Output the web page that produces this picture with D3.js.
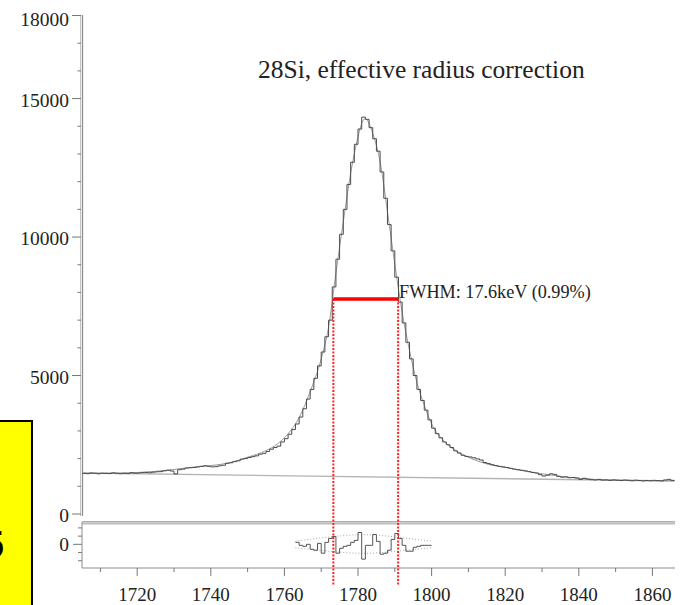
<!DOCTYPE html>
<html><head><meta charset="utf-8">
<script src="https://cdn.jsdelivr.net/npm/d3@7"></script>
<style>html,body{margin:0;padding:0;background:#fff;} svg{display:block;}</style>
</head><body>
<svg id="chart" width="687" height="605"></svg>
<script>
// Spectrum of the 28Si line after effective radius correction
const title = "28Si, effective radius correction";

// Histogram: 1 keV bins, left edge of first bin
const firstBin = 1705;
const counts = [
  1470,1455,1480,1470,1450,1470,1465,1460,1485,1470,
  1455,1470,1460,1490,1475,1480,1495,1500,1490,1510,
  1525,1530,1560,1580,1550,1450,1600,1620,1660,1670,
  1680,1700,1720,1740,1720,1700,1710,1740,1760,1830,
  1850,1890,1920,1980,2000,2040,2070,2100,2160,2190,
  2260,2340,2400,2450,2600,2720,2880,3050,3250,3500,
  3800,4150,4500,4900,5350,5850,6400,7000,8200,9200,
  10100,11000,11900,12700,13350,13900,14330,14250,13950,13550,
  13100,12350,11400,10450,9500,8550,7650,6900,6200,5600,
  5000,4500,4100,3750,3400,3100,2900,2750,2600,2500,
  2400,2280,2200,2120,2080,2060,2030,1990,1950,1860,
  1820,1780,1750,1720,1700,1680,1650,1620,1600,1580,
  1560,1530,1500,1480,1420,1370,1400,1450,1430,1360,
  1330,1340,1310,1320,1300,1250,1290,1260,1240,1230,
  1250,1225,1230,1215,1230,1220,1210,1225,1215,1200,
  1220,1210,1195,1210,1200,1215,1205,1195,1230,1250,
  1215
];

// Linear background under the peak
const bgKeV = [1705, 1866];
const bgCounts = [1480, 1190];

// Fitted line shape
const fitKeV = [1705,1715,1725,1735,1745,1750,1755,1758,1761,1764,1767,1770,1772,1774,1776,1778,1779,1780,1781,1782,1783,1784,1786,1788,1790,1792,1794,1796,1798,1800,1803,1806,1810,1815,1820,1830,1840,1850,1866];
const fitCounts = [1468,1478,1540,1690,1850,2050,2290,2520,2900,3480,4420,5600,6750,8700,10550,12300,13020,13620,14100,14280,14100,13750,12720,10920,9020,7280,5900,4750,3930,3250,2680,2340,2050,1810,1680,1450,1290,1220,1200];

// Fit residuals (data - fit), 1 keV bins
const residFirstBin = 1763;
const residuals = [60,-30,-60,0,-150,-180,30,-270,60,180,240,-270,-120,-60,-30,60,120,360,-450,-30,-30,300,90,-300,-270,-180,150,330,180,-30,-210,-210,-90,-60,-30,-30,-30];

// Statistical envelope around the residuals
const envKeV = [1763, 1770, 1776, 1781, 1786, 1792, 1800];
const envHi = [100, 200, 270, 300, 280, 200, 100];
const envLo = [-100, -190, -250, -280, -260, -190, -100];

// Full width at half maximum
const fwhmLo = 1773.3, fwhmHi = 1790.9, halfMax = 7763;
const fwhmLabel = "FWHM: 17.6keV (0.99%)";

// Axis ticks
const xTicks = [1720, 1740, 1760, 1780, 1800, 1820, 1840, 1860];
const xMinor = [1710, 1730, 1750, 1770, 1790, 1810, 1830, 1850];
const yTicks = [0, 5000, 10000, 15000, 18000];
const yMinor = [1000,2000,3000,4000,6000,7000,8000,9000,11000,12000,13000,14000,16000,17000];
const residTicks = [0];
const residMinor = [-500, -250, 250, 500];

const serif = "'Liberation Serif','Times New Roman',serif";
const svg = d3.select("#chart");

// Side note box, mostly outside the page
svg.append("rect").attr("x", -6).attr("y", 421).attr("width", 38).attr("height", 200)
  .attr("fill", "#ffff00").attr("stroke", "#000").attr("stroke-width", 2);
svg.append("text").attr("x", 4).attr("y", 558).attr("text-anchor", "end")
  .attr("font-family", "'Liberation Sans',Arial,sans-serif").attr("font-weight", "bold")
  .attr("font-size", 38).attr("fill", "#000").text("5");

const x = d3.scaleLinear().domain([1705, 1866]).range([82, 674.5]);
const y = d3.scaleLinear().domain([0, 18000]).range([514, 15.5]);
const yr = d3.scaleLinear().domain([-720, 680]).range([568, 522]);

// Main y axis
svg.append("line").attr("x1", 80.5).attr("x2", 80.5).attr("y1", 15).attr("y2", 516)
  .attr("stroke", "#c4c4c4").attr("stroke-width", 1);
svg.append("line").attr("x1", 82.5).attr("x2", 82.5).attr("y1", 15).attr("y2", 516)
  .attr("stroke", "#8c8c8c").attr("stroke-width", 1.3);
svg.append("g").selectAll("line").data(yTicks).join("line")
  .attr("x1", 72).attr("x2", 81).attr("y1", d => y(d)).attr("y2", d => y(d))
  .attr("stroke", "#777").attr("stroke-width", 1);
svg.append("g").selectAll("line").data(yMinor).join("line")
  .attr("x1", 77.5).attr("x2", 81).attr("y1", d => y(d)).attr("y2", d => y(d))
  .attr("stroke", "#777").attr("stroke-width", 1);
svg.append("g").selectAll("text").data(yTicks).join("text")
  .attr("x", 69).attr("y", d => y(d) + (d === 18000 ? 4 : 1.5)).attr("dy", "0.35em")
  .attr("text-anchor", "end").attr("font-family", serif).attr("font-size", 19.5)
  .attr("fill", "#222").text(d => d);

// Separator between the spectrum and the residual panel
svg.append("line").attr("x1", 82).attr("x2", 675).attr("y1", 521.8).attr("y2", 521.8)
  .attr("stroke", "#8c8c8c").attr("stroke-width", 1);
svg.append("line").attr("x1", 82).attr("x2", 675).attr("y1", 523.6).attr("y2", 523.6)
  .attr("stroke", "#bdbdbd").attr("stroke-width", 2);

// Residual panel axes
svg.append("line").attr("x1", 82).attr("x2", 82).attr("y1", 522).attr("y2", 568)
  .attr("stroke", "#8c8c8c").attr("stroke-width", 1);
svg.append("line").attr("x1", 82).attr("x2", 675).attr("y1", 568).attr("y2", 568)
  .attr("stroke", "#8c8c8c").attr("stroke-width", 1);
svg.append("g").selectAll("line").data(residTicks).join("line")
  .attr("x1", 73).attr("x2", 82).attr("y1", d => yr(d)).attr("y2", d => yr(d))
  .attr("stroke", "#777");
svg.append("g").selectAll("line").data(residMinor).join("line")
  .attr("x1", 78).attr("x2", 82).attr("y1", d => yr(d)).attr("y2", d => yr(d))
  .attr("stroke", "#777");
svg.append("g").selectAll("text").data(residTicks).join("text")
  .attr("x", 69).attr("y", d => yr(d)).attr("dy", "0.35em")
  .attr("text-anchor", "end").attr("font-family", serif).attr("font-size", 19.5)
  .attr("fill", "#222").text(d => d);

// Energy axis
svg.append("g").selectAll("line").data(xTicks).join("line")
  .attr("x1", d => x(d)).attr("x2", d => x(d)).attr("y1", 568).attr("y2", 576)
  .attr("stroke", "#777");
svg.append("g").selectAll("line").data(xMinor).join("line")
  .attr("x1", d => x(d)).attr("x2", d => x(d)).attr("y1", 568).attr("y2", 572)
  .attr("stroke", "#777");
svg.append("g").selectAll("text").data(xTicks).join("text")
  .attr("x", d => x(d)).attr("y", 601).attr("text-anchor", "middle")
  .attr("font-family", serif).attr("font-size", 19).attr("fill", "#222").text(d => d);

// Background line
svg.append("path")
  .datum(bgKeV.map((k, i) => [k, bgCounts[i]]))
  .attr("d", d3.line().x(d => x(d[0])).y(d => y(d[1])))
  .attr("fill", "none").attr("stroke", "#b4b4b4").attr("stroke-width", 1.4);

// Fit curve
svg.append("path")
  .datum(fitKeV.map((k, i) => [k, fitCounts[i]]))
  .attr("d", d3.line().x(d => x(d[0])).y(d => y(d[1])).curve(d3.curveMonotoneX))
  .attr("fill", "none").attr("stroke", "#9a9a9a").attr("stroke-width", 1);

// Histogram
const histPts = counts.map((c, i) => [firstBin + i, c]);
histPts.push([firstBin + counts.length, counts[counts.length - 1]]);
svg.append("path").datum(histPts)
  .attr("d", d3.line().x(d => x(d[0])).y(d => y(d[1])).curve(d3.curveStepAfter))
  .attr("fill", "none").attr("stroke", "#4a4a4a").attr("stroke-width", 1);

// Residual envelope
[envHi, envLo].forEach(arr => {
  svg.append("path").datum(envKeV.map((k, i) => [k, arr[i]]))
    .attr("d", d3.line().x(d => x(d[0])).y(d => yr(d[1])).curve(d3.curveBasis))
    .attr("fill", "none").attr("stroke", "#aaa").attr("stroke-width", 1)
    .attr("stroke-dasharray", "1,2");
});

// Residual histogram
const resPts = residuals.map((r, i) => [residFirstBin + i, r]);
resPts.push([residFirstBin + residuals.length, residuals[residuals.length - 1]]);
svg.append("path").datum(resPts)
  .attr("d", d3.line().x(d => x(d[0])).y(d => yr(d[1])).curve(d3.curveStepAfter))
  .attr("fill", "none").attr("stroke", "#555").attr("stroke-width", 1);

// FWHM markers
[fwhmLo, fwhmHi].forEach(k => {
  svg.append("line").attr("x1", x(k)).attr("x2", x(k)).attr("y1", y(halfMax)).attr("y2", 586)
    .attr("stroke", "#ff2020").attr("stroke-width", 2).attr("stroke-dasharray", "2,1.5");
});
svg.append("line").attr("x1", x(fwhmLo)).attr("x2", x(fwhmHi))
  .attr("y1", y(halfMax)).attr("y2", y(halfMax))
  .attr("stroke", "#ff0000").attr("stroke-width", 3.5);
svg.append("text").attr("x", x(fwhmHi) + 1).attr("y", y(halfMax) - 1.5)
  .attr("font-family", serif).attr("font-size", 18.2).attr("fill", "#222").text(fwhmLabel);

// Title
svg.append("text").attr("x", 258).attr("y", 78)
  .attr("font-family", serif).attr("font-size", 25.5).attr("fill", "#222").text(title);
</script>
</body></html>
